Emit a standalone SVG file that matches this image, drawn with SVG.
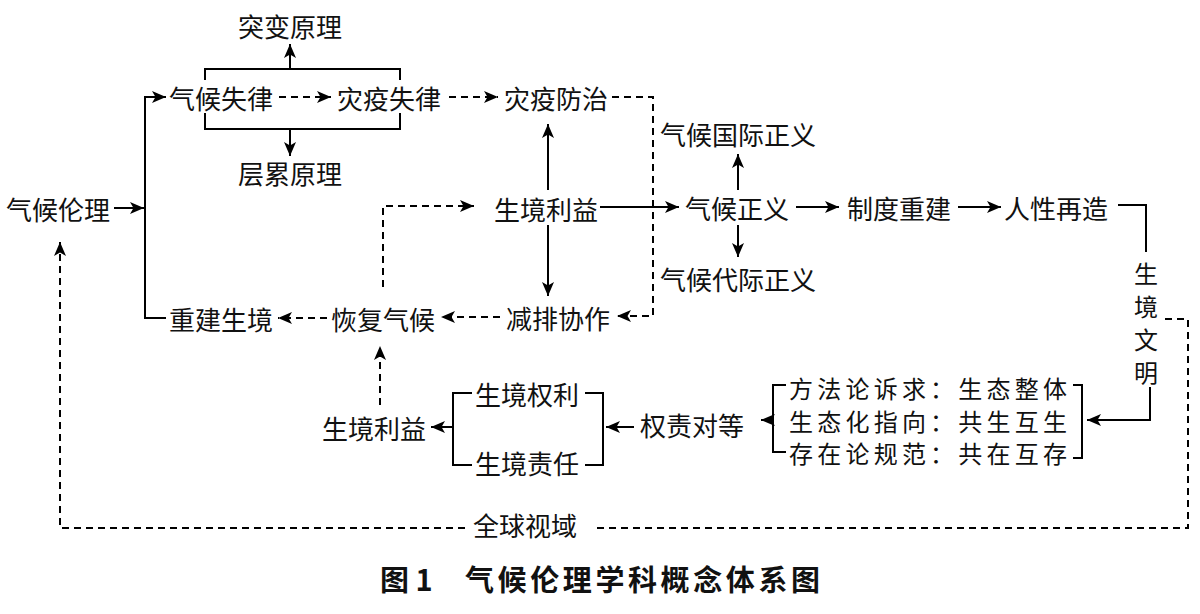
<svg xmlns="http://www.w3.org/2000/svg" width="1200" height="614" viewBox="0 0 1200 614">
<defs>
<marker id="ah" markerUnits="userSpaceOnUse" markerWidth="15" markerHeight="12" refX="14" refY="6" orient="auto">
<path d="M0,0 L14,6 L0,12 L3.5,6 z" fill="#000"/>
</marker>
<style>
.t{font-family:"Noto Sans CJK SC","Noto Sans CJK JP",sans-serif;font-size:26px;fill:#111;text-anchor:middle;dominant-baseline:central}
.m{font-size:24px}
.cap{font-family:"Noto Sans CJK SC",sans-serif;font-size:29px;font-weight:bold;fill:#111;dominant-baseline:central}
.s{fill:none;stroke:#000;stroke-width:2}
.d{fill:none;stroke:#000;stroke-width:2;stroke-dasharray:7,5}
.a{marker-end:url(#ah)}
</style>
</defs>
<rect width="1200" height="614" fill="#fff"/>
<g id="connectors">
<path class="s" d="M205,80 V69 H400 V80"/>
<path class="s a" d="M290,69 V44"/>
<path class="s" d="M205,113 V129 H400 V113"/>
<path class="s a" d="M290,129 V156"/>
<path class="s a" d="M114,208 H144"/>
<path class="s a" d="M166,318 H145 V97 H166"/>
<path class="d a" d="M279,97 H331"/>
<path class="d a" d="M449,97 H498"/>
<path class="d a" d="M612,97 H653 V316 H617"/>
<path class="s a" d="M548,190 V124"/>
<path class="s a" d="M548,225 V296"/>
<path class="s a" d="M600,207 H679"/>
<path class="d a" d="M500,317 H441"/>
<path class="d a" d="M327,318 H278"/>
<path class="d a" d="M383,287 V206 H474"/>
<path class="s a" d="M738,190 V154"/>
<path class="s a" d="M738,225 V257"/>
<path class="s a" d="M796,207 H839"/>
<path class="s a" d="M958,207 H1001"/>
<path class="s" d="M1118,205 H1146 V252"/>
<path class="s a" d="M1150,387 V420 H1087"/>
<path class="s" d="M1073,385 H1082 V458 H1073"/>
<path class="s" d="M786,385 H773 V452 H786"/>
<path class="s a" d="M773,420 H761"/>
<path class="s" d="M585,393 H603 V465 H585"/>
<path class="s a" d="M634,427 H606"/>
<path class="s" d="M472,393 H453 V465 H472"/>
<path class="s a" d="M453,427 H431"/>
<path class="d a" d="M380,405 V346"/>
<path class="d a" d="M465,528 H60 V242"/>
<path class="d" d="M597,528 H1188 V319 H1165"/>
</g>
<g id="n-tubian"><text class="t" x="290" y="25">突变原理</text></g>
<g id="n-qihoushilv"><text class="t" x="221" y="97">气候失律</text></g>
<g id="n-zaiyishilv"><text class="t" x="389" y="97">灾疫失律</text></g>
<g id="n-zaiyifangzhi"><text class="t" x="556" y="97">灾疫防治</text></g>
<g id="n-cenglei"><text class="t" x="290" y="172">层累原理</text></g>
<g id="n-qihoulunli"><text class="t" x="58" y="208">气候伦理</text></g>
<g id="n-shengjingliyi1"><text class="t" x="546" y="208">生境利益</text></g>
<g id="n-guoji"><text class="t" x="738" y="133">气候国际正义</text></g>
<g id="n-qihouzhengyi"><text class="t" x="737" y="207">气候正义</text></g>
<g id="n-daiji"><text class="t" x="738" y="278">气候代际正义</text></g>
<g id="n-zhidu"><text class="t" x="899" y="207">制度重建</text></g>
<g id="n-renxing"><text class="t" x="1056" y="207">人性再造</text></g>
<g id="n-wenming"><text class="t m" x="1146" y="272">生</text><text class="t m" x="1146" y="305">境</text><text class="t m" x="1146" y="338">文</text><text class="t m" x="1146" y="371">明</text></g>
<g id="n-chongjian"><text class="t" x="221" y="318">重建生境</text></g>
<g id="n-huifu"><text class="t" x="383" y="318">恢复气候</text></g>
<g id="n-jianpai"><text class="t" x="558" y="317">减排协作</text></g>
<g id="n-fangfa"><text class="t m" x="928" y="387" textLength="278" lengthAdjust="spacing">方法论诉求：生态整体</text><text class="t m" x="928" y="420" textLength="278" lengthAdjust="spacing">生态化指向：共生互生</text><text class="t m" x="928" y="452" textLength="278" lengthAdjust="spacing">存在论规范：共在互存</text></g>
<g id="n-quanze"><text class="t" x="692" y="424">权责对等</text></g>
<g id="n-quanli"><text class="t" x="527" y="393">生境权利</text></g>
<g id="n-zeren"><text class="t" x="527" y="462">生境责任</text></g>
<g id="n-shengjingliyi2"><text class="t" x="374" y="427">生境利益</text></g>
<g id="n-quanqiu"><text class="t" x="525" y="524">全球视域</text></g>
<text class="cap" x="380" y="578">图 1</text>
<text class="cap" x="465" y="578" textLength="355" lengthAdjust="spacing">气候伦理学科概念体系图</text>
</svg>
